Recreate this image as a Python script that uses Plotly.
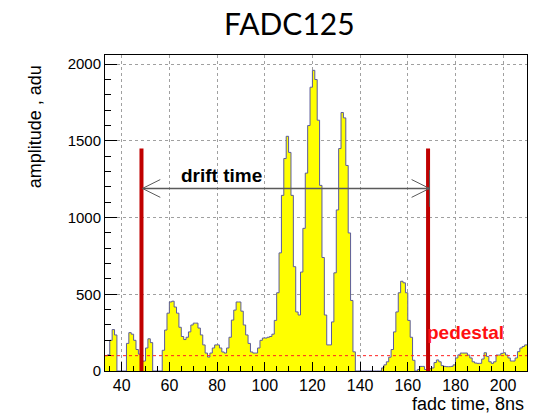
import plotly.graph_objects as go

# FADC125 pulse: amplitude per sample (8 ns bins), samples 33..209
first_sample = 33
amplitude = [
    100, 105, 200, 270, 235, 0, 0, 0, 0, 180,          # 33-42
    250, 240, 200, 140, 110, 60, 65, 150, 210, 185,    # 43-52
    0, 0, 0, 0, 135, 267, 377, 450, 455, 417,          # 53-62
    377, 285, 225, 205, 220, 255, 300, 312, 312, 280,  # 63-72
    235, 170, 117, 91, 117, 150, 170, 170, 150, 124,   # 73-82
    117, 150, 220, 332, 397, 450, 450, 390, 300, 235,  # 83-92
    180, 124, 117, 117, 150, 200, 215, 215, 220, 225,  # 93-102
    240, 330, 510, 770, 1145, 1385, 1530, 1425, 1145, 680,   # 103-112
    385, 365, 645, 930, 1290, 1600, 1850, 1960, 1900, 1635,  # 113-122
    1210, 740, 365, 170, 170, 320, 640, 1050, 1450, 1685,    # 123-132
    1650, 1340, 900, 460, 125, 0, 0, 0, 0, 0,          # 133-142
    0, 0, 0, 0, 0, 0, 20, 40, 60, 90,                  # 143-152
    140, 255, 385, 510, 585, 575, 510, 330, 220, 70,   # 153-162
    0, 10, 30, 30, 10, 0, 15, 20, 55, 72,              # 163-172
    60, 35, 30, 28, 28, 30, 40, 85, 105, 117,          # 173-182
    117, 117, 104, 85, 60, 52, 50, 50, 78, 119,        # 183-192
    95, 60, 50, 60, 104, 104, 115, 119, 104, 85,       # 193-202
    65, 65, 85, 126, 150, 160, 170,                    # 203-209
]
bin_edges = list(range(first_sample, first_sample + len(amplitude) + 1))

x_range = [33, 210]
y_range = [0, 2060]
x_ticks = [40, 60, 80, 100, 120, 140, 160, 180, 200]
y_ticks = [0, 500, 1000, 1500, 2000]

# drift-time window and pedestal level
drift_start = 48.3
drift_end = 168.5
marker_top = 1450
arrow_level = 1190
pedestal = 100

fig = go.Figure()

fig.add_trace(go.Scatter(
    x=bin_edges,
    y=amplitude + [amplitude[-1]],
    mode="lines",
    line=dict(shape="hv", color="#5b5b9b", width=1),
    fill="tozeroy",
    fillcolor="#ffff00",
    hoverinfo="skip",
    showlegend=False,
))

shapes = []
# pedestal level
shapes.append(dict(type="line", xref="x", yref="y",
                   x0=x_range[0], x1=x_range[1], y0=pedestal, y1=pedestal,
                   line=dict(color="#ff2020", width=1, dash="3px,3px")))
# window markers
for xv in (drift_start, drift_end):
    shapes.append(dict(type="line", xref="x", yref="y",
                       x0=xv, x1=xv, y0=-30, y1=marker_top,
                       line=dict(color="#c00000", width=4)))

# double arrow for the drift time
arrow_color = "#5a5a5a"
head_dx = 7.5
head_dy = 58
ax0 = drift_start + 0.4
ax1 = drift_end + 0.6
shapes.append(dict(type="line", xref="x", yref="y",
                   x0=ax0, x1=ax1, y0=arrow_level, y1=arrow_level,
                   line=dict(color=arrow_color, width=1.5)))
for sgn in (1, -1):
    shapes.append(dict(type="line", xref="x", yref="y",
                       x0=ax0, x1=ax0 + head_dx, y0=arrow_level,
                       y1=arrow_level + sgn * head_dy,
                       line=dict(color=arrow_color, width=1)))
    shapes.append(dict(type="line", xref="x", yref="y",
                       x0=ax1, x1=ax1 - head_dx, y0=arrow_level,
                       y1=arrow_level + sgn * head_dy,
                       line=dict(color=arrow_color, width=1)))
shapes.append(dict(type="line", xref="x", yref="y",
                   x0=ax1, x1=ax1, y0=arrow_level - 120, y1=arrow_level + 120,
                   line=dict(color=arrow_color, width=1)))

annotations = [
    dict(text="FADC125", xref="paper", yref="paper", x=0.438, y=1.10,
         xanchor="center", yanchor="middle", showarrow=False,
         font=dict(family="Lato", size=30, color="black")),
    dict(text="drift time", xref="x", yref="y", x=82, y=1272,
         xanchor="center", yanchor="middle", showarrow=False,
         font=dict(family="Liberation Sans", size=19, color="black", weight="bold")),
    dict(text="pedestal", xref="x", yref="y", x=184, y=248,
         xanchor="center", yanchor="middle", showarrow=False,
         font=dict(family="Liberation Sans", size=19, color="#ff1010", weight="bold")),
    dict(text="amplitude , adu", xref="paper", yref="paper", x=-0.166, y=0.975,
         xanchor="center", yanchor="top", textangle=-90, showarrow=False,
         font=dict(family="Liberation Sans", size=18, color="black")),
    dict(text="fadc time, 8ns", xref="paper", yref="paper", x=0.995, y=-0.139,
         xanchor="right", yanchor="bottom", showarrow=False, borderpad=0,
         font=dict(family="Liberation Sans", size=18, color="black")),
]

fig.update_layout(
    width=544, height=415,
    margin=dict(l=105, r=17, t=55, b=44),
    paper_bgcolor="white", plot_bgcolor="white",
    shapes=shapes, annotations=annotations,
    font=dict(family="Liberation Sans", color="black"),
)
fig.update_xaxes(
    range=x_range, tickvals=x_ticks, ticks="inside", ticklen=9, tickcolor="black",
    tickfont=dict(size=16), showline=True, mirror=True, linecolor="black", linewidth=1,
    showgrid=True, gridcolor="#a0a0a0", griddash="dot", gridwidth=1, zeroline=False,
    minor=dict(dtick=5, tick0=0, ticks="inside", ticklen=5, tickcolor="black", showgrid=False),
)
fig.update_yaxes(
    range=y_range, tickvals=y_ticks, ticks="inside", ticklen=12, tickcolor="black",
    tickfont=dict(size=15), showline=True, mirror=True, linecolor="black", linewidth=1,
    showgrid=True, gridcolor="#a0a0a0", griddash="dot", gridwidth=1, zeroline=False,
    minor=dict(dtick=100, tick0=0, ticks="inside", ticklen=6, tickcolor="black", showgrid=False),
)

fig.write_html("out.html")
